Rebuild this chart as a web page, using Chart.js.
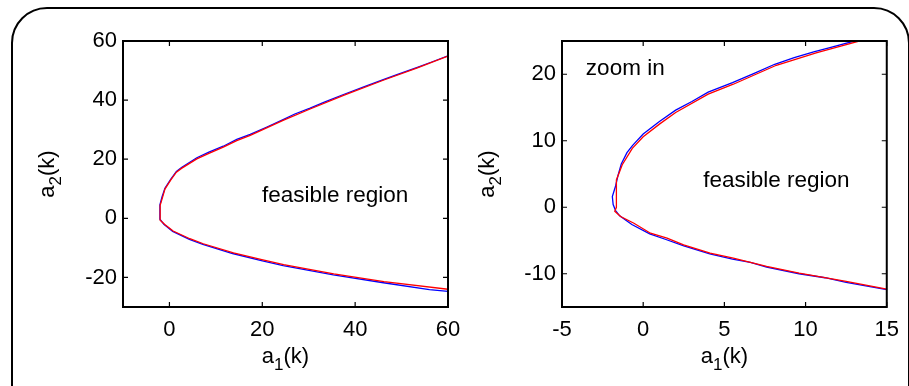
<!DOCTYPE html>
<html><head><meta charset="utf-8">
<script src="https://cdn.jsdelivr.net/npm/chart.js@4.4.0/dist/chart.umd.min.js"></script>
<style>
html,body{margin:0;padding:0;background:#fff;overflow:hidden;width:909px;height:386px;}
#frame{position:absolute;left:11px;top:7px;width:899px;height:430px;border:2px solid #000;border-radius:36px;box-sizing:border-box;}
#c1{position:absolute;left:0;top:0;}
#c2{position:absolute;left:440px;top:0;}
</style></head><body>
<div id="frame"></div>
<canvas id="c1" width="480" height="386"></canvas>
<canvas id="c2" width="469" height="386"></canvas>
<script>
// ---- tick labels ----
const leftTicksX = [0, 20, 40, 60];
const leftTicksY = [-20, 0, 20, 40, 60];
const rightTicksX = [-5, 0, 5, 10, 15];
const rightTicksY = [-10, 0, 10, 20];

// ---- left panel (full view) ----
const leftRedX = [60, 53.4, 46.2, 37.5, 30.3, 24.6, 17.4, 14.5, 11.6, 8.5, 5.9, 2.6, 1.5, 0.3, -0.97, -1.5, -2.0, -2.0, -1.0, 0.8, 4.4, 7.3, 13.8, 19.9, 24.6, 35.4, 46.2, 60];
const leftRedY = [54.9, 50.9, 46.8, 41.6, 37.0, 33.2, 28.1, 26.3, 24.1, 22.0, 20.1, 16.9, 15.6, 13.0, 9.9, 7.0, 4.4, -0.6, -2.1, -4.3, -6.9, -8.6, -11.7, -14.0, -15.7, -18.8, -21.4, -24.0];
const leftBlueX = [60, 56.5, 53.4, 49.0, 46.2, 42.0, 37.5, 33.5, 30.3, 27.0, 24.6, 21.0, 17.4, 14.5, 11.6, 8.5, 5.9, 2.6, 1.5, 0.3, -0.97, -1.6, -2.05, -2.05, -1.2, 0.7, 4.3, 7.2, 13.6, 19.8, 24.5, 35.3, 46.1, 56.0, 60];
const leftBlueY = [55.0, 52.9, 51.1, 48.6, 47.0, 44.6, 41.9, 39.4, 37.3, 35.3, 33.5, 30.9, 28.4, 26.7, 24.4, 22.4, 20.5, 17.2, 15.9, 13.3, 10.2, 7.2, 4.6, -0.3, -2.0, -4.4, -7.1, -8.8, -11.9, -14.3, -16.0, -19.1, -21.8, -24.1, -24.7];

// ---- right panel (zoom in) ----
const rightRedX = [13.3, 12.0, 10.65, 8.2, 5.55, 4.0, 2.0, 1.0, 0.0, -0.67, -1.29, -1.65, -1.65, -1.75, -1.39, -0.57, 0.45, 1.47, 2.49, 4.12, 5.55, 7.6, 9.6, 12.5, 15.0];
const rightRedY = [25.0, 24.1, 23.2, 21.35, 18.5, 17.0, 14.25, 12.5, 10.6, 8.85, 6.4, 4.1, 0.0, -0.6, -1.4, -2.4, -3.9, -4.65, -5.65, -6.9, -7.65, -8.9, -9.9, -11.15, -12.3];
const rightBlueX = [13.0, 11.5, 10.5, 9.3, 8.1, 6.8, 5.5, 4.0, 3.0, 2.0, 1.0, 0.0, -0.65, -1.0, -1.35, -1.55, -1.7, -1.9, -1.85, -1.7, -1.45, -0.7, 0.4, 1.4, 2.5, 4.1, 5.5, 6.6, 7.6, 9.6, 11.2, 12.5, 15.0];
const rightBlueY = [25.0, 24.0, 23.35, 22.5, 21.5, 20.1, 18.75, 17.3, 15.9, 14.6, 12.9, 11.0, 9.3, 8.2, 6.5, 4.8, 3.2, 1.6, 0.4, -0.5, -1.3, -2.6, -4.0, -4.85, -5.8, -7.0, -7.8, -8.3, -9.0, -10.0, -10.6, -11.3, -12.4];

const FONT = "'Liberation Sans', Arial, sans-serif";

function pts(xs, ys) { return xs.map((x, i) => ({ x: x, y: ys[i] })); }

const boxPlugin = {
  id: 'box',
  afterDatasetsDraw(chart) {
    const { ctx, chartArea: a, scales } = chart;
    ctx.save();
    ctx.strokeStyle = '#000';
    ctx.lineWidth = 2;
    ctx.strokeRect(a.left, a.top, a.right - a.left, a.bottom - a.top);
    ctx.lineWidth = 1.2;
    const tl = 5;
    ctx.beginPath();
    scales.x.ticks.forEach(t => {
      const px = scales.x.getPixelForValue(t.value);
      ctx.moveTo(px, a.bottom); ctx.lineTo(px, a.bottom - tl);
      ctx.moveTo(px, a.top); ctx.lineTo(px, a.top + tl);
    });
    scales.y.ticks.forEach(t => {
      const py = scales.y.getPixelForValue(t.value);
      ctx.moveTo(a.left, py); ctx.lineTo(a.left + tl, py);
      ctx.moveTo(a.right, py); ctx.lineTo(a.right - tl, py);
    });
    ctx.stroke();
    ctx.restore();
  }
};

function drawSubLabel(ctx, base, sub, tail) {
  ctx.font = '22px ' + FONT;
  const w1 = ctx.measureText(base).width;
  const w3 = ctx.measureText(tail).width;
  ctx.font = '17px ' + FONT;
  const w2 = ctx.measureText(sub).width;
  const total = w1 + w2 + w3;
  let x = -total / 2;
  ctx.textAlign = 'left';
  ctx.textBaseline = 'alphabetic';
  ctx.font = '22px ' + FONT;
  ctx.fillText(base, x, 0); x += w1;
  ctx.font = '17px ' + FONT;
  ctx.fillText(sub, x, 7); x += w2;
  ctx.font = '22px ' + FONT;
  ctx.fillText(tail, x, 0);
}

const notesPlugin = {
  id: 'notes',
  afterDraw(chart, args, opts) {
    const { ctx, chartArea: a, scales } = chart;
    ctx.save();
    ctx.fillStyle = '#000';
    (opts.items || []).forEach(it => {
      ctx.font = '22.5px ' + FONT;
      ctx.textAlign = it.align;
      ctx.textBaseline = 'alphabetic';
      ctx.fillText(it.text, scales.x.getPixelForValue(it.x), scales.y.getPixelForValue(it.y));
    });
    ctx.save();
    ctx.translate((a.left + a.right) / 2, opts.xTitleY);
    drawSubLabel(ctx, 'a', '1', '(k)');
    ctx.restore();
    ctx.save();
    ctx.translate(opts.yTitleX, (a.top + a.bottom) / 2);
    ctx.rotate(-Math.PI / 2);
    drawSubLabel(ctx, 'a', '2', '(k)');
    ctx.restore();
    ctx.restore();
  }
};

function makeChart(id, cfg) {
  const tickFont = { family: FONT, size: 22 };
  return new Chart(document.getElementById(id), {
    type: 'scatter',
    data: {
      datasets: [
        { data: pts(cfg.redX, cfg.redY), showLine: true, borderColor: '#ff0000', borderWidth: 1.3, pointRadius: 0, tension: 0 },
        { data: pts(cfg.blueX, cfg.blueY), showLine: true, borderColor: '#0000ff', borderWidth: 1.3, pointRadius: 0, tension: 0 }
      ]
    },
    options: {
      responsive: false,
      animation: false,
      events: [],
      layout: { padding: { left: 0, top: 41, right: cfg.padRight, bottom: 0 } },
      plugins: { legend: { display: false }, tooltip: { enabled: false }, notes: cfg.notes },
      scales: {
        x: {
          type: 'linear', min: cfg.xMin, max: cfg.xMax,
          afterBuildTicks: s => { s.ticks = cfg.ticksX.map(v => ({ value: v })); },
          afterFit: s => { s.height = 79; },
          grid: { display: false, drawTicks: false },
          border: { display: false },
          ticks: { color: '#000', font: tickFont, padding: 10, autoSkip: false, maxRotation: 0, callback: v => String(v) }
        },
        y: {
          type: 'linear', min: cfg.yMin, max: cfg.yMax,
          afterBuildTicks: s => { s.ticks = cfg.ticksY.map(v => ({ value: v })); },
          afterFit: s => { s.width = cfg.yWidth; },
          grid: { display: false, drawTicks: false },
          border: { display: false },
          ticks: { color: '#000', font: tickFont, padding: 6, autoSkip: false, callback: v => String(v) }
        }
      }
    },
    plugins: [boxPlugin, notesPlugin]
  });
}

makeChart('c1', {
  redX: leftRedX, redY: leftRedY, blueX: leftBlueX, blueY: leftBlueY,
  xMin: -10, xMax: 60, yMin: -30, yMax: 60,
  ticksX: leftTicksX, ticksY: leftTicksY,
  padRight: 32, yWidth: 123,
  notes: { items: [{ text: 'feasible region', x: 35.7, y: 5.4, align: 'center' }], xTitleY: 363, yTitleX: 54 }
});

makeChart('c2', {
  redX: rightRedX, redY: rightRedY, blueX: rightBlueX, blueY: rightBlueY,
  xMin: -5, xMax: 15, yMin: -15, yMax: 25,
  ticksX: rightTicksX, ticksY: rightTicksY,
  padRight: 21, yWidth: 122,
  notes: { items: [{ text: 'zoom in', x: -3.53, y: 19.85, align: 'left' }, { text: 'feasible region', x: 8.2, y: 3.1, align: 'center' }], xTitleY: 363, yTitleX: 54 }
});
</script>
</body></html>
